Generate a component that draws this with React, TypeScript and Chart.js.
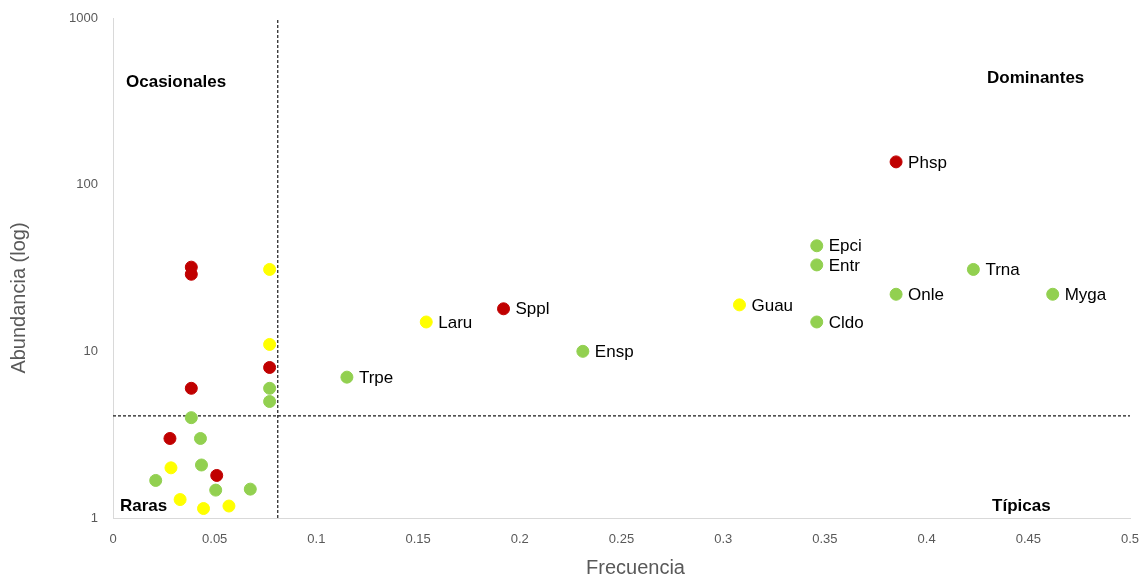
import React, { useEffect, useRef } from 'react';
import { Chart, registerables } from 'chart.js';

Chart.register(...registerables);

// Species codes ('' = unlabelled point)
const speciesNames = [
  'Phsp', 'Epci', 'Entr', 'Trna', 'Onle', 'Myga', 'Guau', 'Sppl', 'Cldo', 'Laru', 'Ensp', 'Trpe',
  '', '', '', '', '', '', '', '', '', '', '', '', '', '', '', '', '', '', '', '',
];
const frequency = [
  0.385, 0.346, 0.346, 0.423, 0.385, 0.462, 0.308, 0.192, 0.346, 0.154, 0.231, 0.115,
  0.0385, 0.0385, 0.077, 0.077, 0.077, 0.077, 0.077, 0.0385, 0.0385, 0.028,
  0.043, 0.0285, 0.0435, 0.051, 0.021, 0.0505, 0.0675, 0.033, 0.0445, 0.057,
];
const abundance = [
  137, 43, 33, 31, 22, 22, 19, 18, 15, 15, 10, 7,
  32, 29, 31, 11, 8, 6, 5, 6, 4, 3,
  3, 2, 2.08, 1.8, 1.68, 1.47, 1.49, 1.29, 1.14, 1.18,
];
// R = red, G = green, Y = yellow
const colorGroup = [
  'R', 'G', 'G', 'G', 'G', 'G', 'Y', 'R', 'G', 'Y', 'G', 'G',
  'R', 'R', 'Y', 'Y', 'R', 'G', 'G', 'R', 'G', 'R',
  'G', 'Y', 'G', 'R', 'G', 'G', 'G', 'Y', 'Y', 'Y',
];

const quadrantNames = ['Ocasionales', 'Dominantes', 'Raras', 'Típicas'];
const quadrantFreq = [0.0064, 0.4297, 0.0034, 0.4322];
const quadrantAbund = [412, 436, 1.18, 1.18];

const freqThreshold = 0.081;
const abundThreshold = 4.1;

const xTicks = [0, 0.05, 0.1, 0.15, 0.2, 0.25, 0.3, 0.35, 0.4, 0.45, 0.5];
const yTicks = [1, 10, 100, 1000];

const xTitle = 'Frecuencia';
const yTitle = 'Abundancia (log)';

const groupColors: Record<string, string> = { R: '#C00000', G: '#92D050', Y: '#FFFF00' };

const FONT = '"Liberation Sans", Arial, sans-serif';

const labelPlugin = {
  id: 'customLabels',
  afterDatasetsDraw(chart: any) {
    const { ctx, scales } = chart;
    const xs = scales.x;
    const ys = scales.y;
    ctx.save();
    ctx.textBaseline = 'middle';
    ctx.textAlign = 'left';
    ctx.fillStyle = '#000000';
    ctx.font = `17px ${FONT}`;
    speciesNames.forEach((n, i) => {
      if (!n) return;
      ctx.fillText(n, xs.getPixelForValue(frequency[i]) + 12, ys.getPixelForValue(abundance[i]) + 1);
    });
    ctx.font = `bold 17px ${FONT}`;
    quadrantNames.forEach((n, i) => {
      ctx.fillText(n, xs.getPixelForValue(quadrantFreq[i]), ys.getPixelForValue(quadrantAbund[i]));
    });
    // axis titles
    ctx.fillStyle = '#595959';
    ctx.font = `20px ${FONT}`;
    ctx.textAlign = 'center';
    ctx.fillText(xTitle, (chart.chartArea.left + chart.chartArea.right) / 2 + 14, 568);
    ctx.translate(19, (chart.chartArea.top + chart.chartArea.bottom) / 2 + 30);
    ctx.rotate(-Math.PI / 2);
    ctx.fillText(yTitle, 0, 0);
    ctx.restore();
  },
};

export default function App() {
  const ref = useRef<HTMLCanvasElement | null>(null);

  useEffect(() => {
    if (!ref.current) return;
    const pointSets = ['R', 'G', 'Y'].map((g) => {
      const pts: { x: number; y: number }[] = [];
      frequency.forEach((f, i) => {
        if (colorGroup[i] === g) pts.push({ x: f, y: abundance[i] });
      });
      return {
        type: 'scatter' as const,
        data: pts,
        backgroundColor: groupColors[g],
        borderColor: groupColors[g],
        borderWidth: 1,
        pointRadius: 6,
        order: 1,
      };
    });
    const lineStyle = {
      type: 'line' as const,
      showLine: true,
      borderColor: '#1a1a1a',
      borderWidth: 1.2,
      borderDash: [3, 2],
      pointRadius: 0,
      fill: false,
      order: 5,
    };
    const chart = new Chart(ref.current, {
      type: 'scatter',
      data: {
        datasets: [
          ...pointSets,
          { ...lineStyle, data: [{ x: freqThreshold, y: yTicks[0] }, { x: freqThreshold, y: yTicks[yTicks.length - 1] }] },
          { ...lineStyle, data: [{ x: xTicks[0], y: abundThreshold }, { x: xTicks[xTicks.length - 1], y: abundThreshold }] },
        ] as any,
      },
      options: {
        animation: false,
        responsive: false,
        layout: { padding: { top: 18, right: 12, left: 0, bottom: 0 } },
        plugins: { legend: { display: false }, tooltip: { enabled: false } },
        scales: {
          x: {
            type: 'linear',
            min: xTicks[0],
            max: xTicks[xTicks.length - 1],
            grid: { display: false, drawTicks: false },
            border: { display: true, color: '#D9D9D9', width: 1 },
            afterBuildTicks: (s: any) => { s.ticks = xTicks.map((v) => ({ value: v })); },
            afterFit: (s: any) => {
              s.height = 62;
              s.paddingLeft = 0;
              s.paddingRight = 0;
            },
            ticks: {
              padding: 14,
              color: '#595959',
              font: { family: FONT, size: 13 },
              maxRotation: 0,
              autoSkip: false,
              callback: (v: any) => String(v),
            },
          },
          y: {
            type: 'logarithmic',
            min: yTicks[0],
            max: yTicks[yTicks.length - 1],
            grid: { display: false, drawTicks: false },
            border: { display: true, color: '#D9D9D9', width: 1 },
            afterBuildTicks: (s: any) => { s.ticks = yTicks.map((v) => ({ value: v })); },
            afterFit: (s: any) => {
              s.width = 113;
              s.paddingTop = 0;
              s.paddingBottom = 0;
            },
            ticks: {
              padding: 15,
              color: '#595959',
              font: { family: FONT, size: 13 },
              autoSkip: false,
              callback: (v: any) => String(v),
            },
          },
        },
      },
      plugins: [labelPlugin],
    });
    return () => chart.destroy();
  }, []);

  return (
    <div style={{ position: 'absolute', left: 0, top: 0, width: 1142, height: 580, background: '#fff' }}>
      <canvas ref={ref} width={1142} height={580} style={{ display: 'block' }} />
    </div>
  );
}
